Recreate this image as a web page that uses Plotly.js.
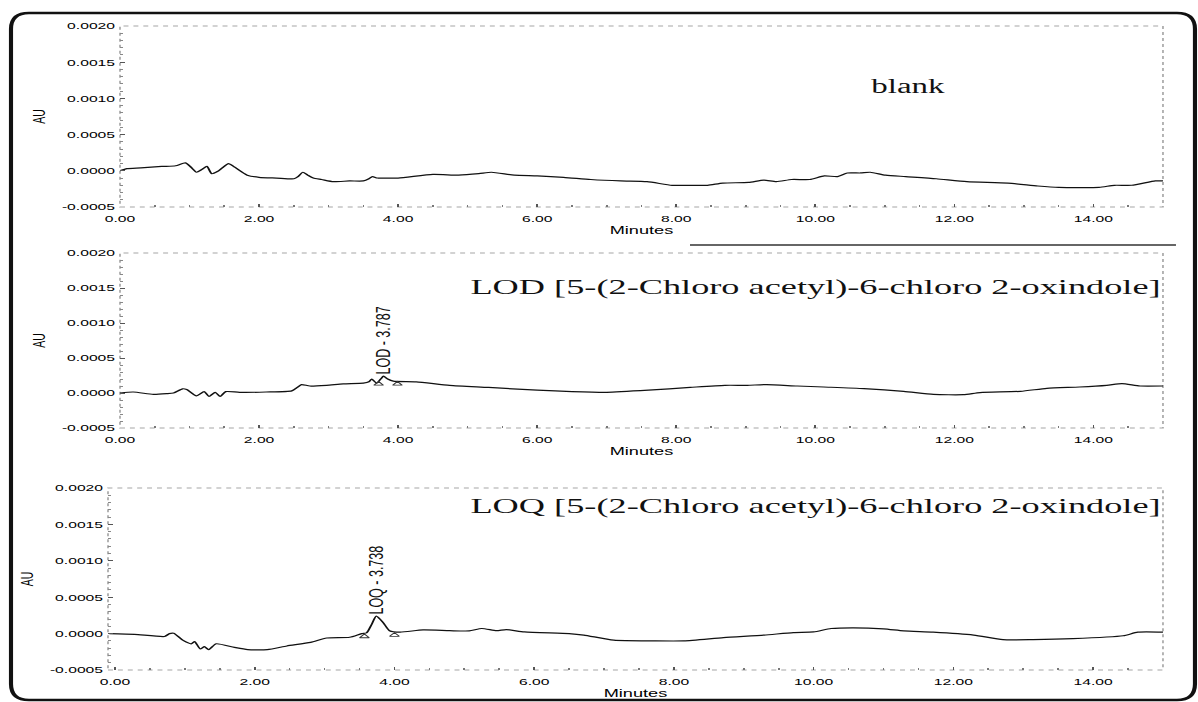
<!DOCTYPE html>
<html>
<head>
<meta charset="utf-8">
<script src="https://cdn.plot.ly/plotly-3.0.1.min.js"></script>
<style>
html,body{margin:0;padding:0;overflow:hidden;background:#fff;}
#plot{width:726px;height:702px;transform:scaleX(1.6501);transform-origin:0 0;}
</style>
</head>
<body>
<div id="plot"></div>
<script>
// ---- data ----
const blankTime = [0, 0.1, 0.3, 0.6, 0.8, 0.94, 1.02, 1.1, 1.18, 1.25, 1.32, 1.4, 1.47, 1.56, 1.65, 1.83, 2.0, 2.25, 2.5, 2.56, 2.63, 2.7, 2.78, 2.9, 3.07, 3.3, 3.5, 3.58, 3.63, 3.7, 3.75, 4.0, 4.5, 4.87, 5.16, 5.34, 5.67, 6.0, 6.38, 6.77, 7.2, 7.58, 7.94, 8.2, 8.45, 8.67, 9.04, 9.26, 9.44, 9.66, 9.92, 10.13, 10.32, 10.46, 10.65, 10.79, 11.01, 11.3, 11.74, 12.18, 12.77, 13.2, 13.5, 14.08, 14.3, 14.55, 14.89, 15.0];
const blankAU = [0, 0.00003, 0.00004, 0.00006, 0.00007, 0.00011, 0.00005, -0.00002, 0.00002, 0.00006, -0.00004, -0.00001, 0.00004, 0.0001, 0.00005, -0.00006, -0.00009, -0.0001, -0.00011, -0.00008, -0.00002, -0.00006, -0.0001, -0.00012, -0.00015, -0.00014, -0.00014, -0.00011, -0.00008, -0.0001, -0.0001, -0.0001, -0.00005, -0.00006, -0.00004, -0.00002, -0.00006, -0.00007, -0.00009, -0.00012, -0.00014, -0.00015, -0.0002, -0.0002, -0.0002, -0.00017, -0.00016, -0.00013, -0.00015, -0.00012, -0.00012, -0.00007, -0.00008, -0.00003, -0.00003, -0.00002, -0.00006, -0.00008, -0.00011, -0.00015, -0.00017, -0.00021, -0.00023, -0.00023, -0.0002, -0.0002, -0.00014, -0.00014];

const lodTime = [0, 0.19, 0.48, 0.67, 0.77, 0.9, 0.96, 1.1, 1.21, 1.28, 1.37, 1.44, 1.52, 1.72, 2.1, 2.47, 2.55, 2.61, 2.73, 2.97, 3.21, 3.5, 3.58, 3.62, 3.69, 3.75, 3.79, 3.85, 3.93, 4.26, 4.74, 5.3, 6.0, 6.5, 7.0, 7.6, 8.2, 8.7, 9.02, 9.3, 9.74, 10.12, 10.7, 11.27, 11.7, 12.13, 12.37, 12.95, 13.33, 13.8, 14.19, 14.41, 14.67, 15.0];
const lodAU = [0, 0.000014, -0.00002, -0.00001, 0, 0.00006, 0.00005, -0.00004, 0.00002, -0.00005, 0.00001, -0.00005, 0.00002, 0.00001, 0.000014, 0.00003, 0.00008, 0.00012, 0.0001, 0.00011, 0.00013, 0.00014, 0.00016, 0.0002, 0.00014, 0.0002, 0.00024, 0.0002, 0.00017, 0.00016, 0.00011, 0.00008, 0.00004, 0.00002, 0.00001, 0.00004, 0.00008, 0.00011, 0.00011, 0.00012, 0.0001, 0.000086, 0.000063, 0.000024, -0.00002, -0.000024, 0.000006, 0.000024, 0.000067, 0.000086, 0.00011, 0.000134, 0.0001, 0.0001];

const loqTime = [-0.08, 0.28, 0.71, 0.78, 0.84, 0.97, 1.09, 1.14, 1.22, 1.28, 1.34, 1.45, 1.71, 1.9, 2.18, 2.46, 2.8, 3.03, 3.36, 3.53, 3.6, 3.67, 3.74, 3.84, 3.93, 4.08, 4.41, 4.79, 5.07, 5.25, 5.46, 5.6, 5.86, 6.5, 6.71, 7.14, 7.71, 8.14, 8.71, 9.29, 9.71, 10.0, 10.25, 10.57, 11.0, 11.29, 11.71, 12.29, 12.71, 13.14, 13.71, 14.43, 14.64, 15.0];
const loqAU = [0, -0.00001, -0.00004, 0, 0.000005, -0.00009, -0.00014, -0.00011, -0.00021, -0.00018, -0.00022, -0.00014, -0.00019, -0.00022, -0.00022, -0.00017, -0.00012, -0.00006, -0.00005, 0, 0.00001, 0.00012, 0.00024, 0.00015, 0.00004, 0.00002, 0.00005, 0.00004, 0.000037, 0.00007, 0.00004, 0.000055, 0.000023, 0, -0.00002, -0.00009, -0.0001, -0.0001, -0.000055, -0.00002, 0.000014, 0.000023, 0.00007, 0.00008, 0.000065, 0.000037, 0.00002, -0.00002, -0.000083, -0.000083, -0.00007, -0.00003, 0.00002, 0.00002];

// peak integration marks (start / end of peak)
const lodMarkTime = [3.72, 3.99];
const lodMarkAU = [0.00013, 0.00013];
const loqMarkTime = [3.57, 4.0];
const loqMarkAU = [-0.00004, -0.00002];

// peak labels
const lodPeak = {label: 'LOD - 3.787', time: 3.787, au: 0.00024};
const loqPeak = {label: 'LOQ - 3.738', time: 3.738, au: 0.00024};

const panelTitles = ['blank', 'LOD [5-(2-Chloro acetyl)-6-chloro 2-oxindole]', 'LOQ [5-(2-Chloro acetyl)-6-chloro 2-oxindole]'];

const xTickVals = [0, 2, 4, 6, 8, 10, 12, 14];
const xTickText = ['0.00', '2.00', '4.00', '6.00', '8.00', '10.00', '12.00', '14.00'];
const yTickVals = [-0.0005, 0, 0.0005, 0.001, 0.0015, 0.002];
const yTickText = ['-0.0005', '0.0000', '0.0005', '0.0010', '0.0015', '0.0020'];

// ---- styling ----
const sans = 'Liberation Sans, Arial, sans-serif';
const serif = 'Liberation Serif, Times New Roman, serif';
const lineStyle = {color: '#111', width: 1.2, shape: 'spline', smoothing: 0.6};

function trace(x, y, n) {
  return {x: x, y: y, type: 'scatter', mode: 'lines', line: lineStyle,
          xaxis: 'x' + (n === 1 ? '' : n), yaxis: 'y' + (n === 1 ? '' : n), hoverinfo: 'skip'};
}
function marks(x, y, n) {
  return {x: x, y: y, type: 'scatter', mode: 'markers',
          marker: {symbol: 'triangle-up-open', size: 5, color: '#333', line: {width: 0.8, color: '#333'}},
          xaxis: 'x' + n, yaxis: 'y' + n, hoverinfo: 'skip'};
}

const data = [
  trace(blankTime, blankAU, 1),
  trace(lodTime, lodAU, 2),
  trace(loqTime, loqAU, 3),
  marks(lodMarkTime, lodMarkAU, 2),
  marks(loqMarkTime, loqMarkAU, 3)
];

function xAxis(domain, range, anchor) {
  return {
    domain: domain, range: range, anchor: anchor,
    tickvals: xTickVals, ticktext: xTickText,
    ticks: 'inside', ticklen: 3, tickcolor: '#555', tickwidth: 1,
    minor: {dtick: 0.5, tick0: 0, ticks: 'inside', ticklen: 2, tickcolor: '#777'},
    showgrid: false, zeroline: false, showline: false,
    ticklabelstandoff: 5,
    tickfont: {family: sans, size: 9.5, color: '#000'},
    title: {text: 'Minutes', font: {family: sans, size: 11, color: '#000'}, standoff: 1}
  };
}
function yAxis(domain, anchor) {
  return {
    domain: domain, range: [-0.0005, 0.002], anchor: anchor,
    tickvals: yTickVals, ticktext: yTickText,
    ticks: 'inside', ticklen: 3, tickcolor: '#555', tickwidth: 1,
    minor: {dtick: 0.0001, tick0: 0, ticks: 'inside', ticklen: 2, tickcolor: '#888'},
    showgrid: false, zeroline: false, showline: false,
    ticklabelstandoff: 2,
    tickfont: {family: sans, size: 9.5, color: '#000'},
    title: {text: 'AU', font: {family: sans, size: 10.5, color: '#000'}, standoff: 7}
  };
}

const X0 = 120 / 1198, X0b = 108 / 1198, X1 = 1163 / 1198;
const d1 = [1 - 207 / 702, 1 - 26 / 702];
const d2 = [1 - 428 / 702, 1 - 253 / 702];
const d3 = [1 - 670 / 702, 1 - 488 / 702];

function border(n) {
  const s = n === 1 ? '' : n;
  return {type: 'rect', xref: 'x' + s + ' domain', yref: 'y' + s + ' domain',
          x0: 0, x1: 1, y0: 0, y1: 1, line: {color: '#a5a5a5', width: 1, dash: 'dot'}, layer: 'below'};
}

// rounded outer frame (paper coords)
const fx0 = 11 / 1198, fx1 = 1195 / 1198, fy0 = 1 - 700 / 702, fy1 = 1 - 13 / 702;
const rx = 18 / 1198, ry = 16 / 702;
const framePath = 'M ' + (fx0 + rx) + ',' + fy1 + ' L ' + (fx1 - rx) + ',' + fy1 +
  ' Q ' + fx1 + ',' + fy1 + ' ' + fx1 + ',' + (fy1 - ry) +
  ' L ' + fx1 + ',' + (fy0 + ry) + ' Q ' + fx1 + ',' + fy0 + ' ' + (fx1 - rx) + ',' + fy0 +
  ' L ' + (fx0 + rx) + ',' + fy0 + ' Q ' + fx0 + ',' + fy0 + ' ' + fx0 + ',' + (fy0 + ry) +
  ' L ' + fx0 + ',' + (fy1 - ry) + ' Q ' + fx0 + ',' + fy1 + ' ' + (fx0 + rx) + ',' + fy1 + ' Z';

const layout = {
  width: 726, height: 702, autosize: false,
  margin: {l: 0, r: 0, t: 0, b: 0},
  paper_bgcolor: '#fff', plot_bgcolor: 'rgba(0,0,0,0)',
  showlegend: false,
  xaxis: xAxis([X0, X1], [0, 15], 'y'),
  yaxis: yAxis(d1, 'x'),
  xaxis2: xAxis([X0, X1], [0, 15], 'y2'),
  yaxis2: yAxis(d2, 'x2'),
  xaxis3: xAxis([X0b, X1], [-0.1, 15], 'y3'),
  yaxis3: yAxis(d3, 'x3'),
  shapes: [
    border(1), border(2), border(3),
    {type: 'path', xref: 'paper', yref: 'paper', path: framePath, line: {color: '#111', width: 2.5}},
    {type: 'line', xref: 'paper', yref: 'paper', x0: 690 / 1198, x1: 1176 / 1198,
     y0: 1 - 245 / 702, y1: 1 - 245 / 702, line: {color: '#333', width: 1.3}}
  ],
  annotations: [
    {xref: 'paper', yref: 'paper', x: 908 / 1198, y: 1 - 86 / 702, text: panelTitles[0], showarrow: false,
     xanchor: 'center', yanchor: 'middle', font: {family: serif, size: 20, color: '#111'}},
    {xref: 'paper', yref: 'paper', x: 815 / 1198, y: 1 - 286 / 702, text: panelTitles[1], showarrow: false,
     xanchor: 'center', yanchor: 'middle', font: {family: serif, size: 22, color: '#111'}},
    {xref: 'paper', yref: 'paper', x: 815 / 1198, y: 1 - 505 / 702, text: panelTitles[2], showarrow: false,
     xanchor: 'center', yanchor: 'middle', font: {family: serif, size: 22, color: '#111'}},
    {xref: 'x2', yref: 'y2', x: lodPeak.time, y: lodPeak.au, text: lodPeak.label, textangle: -90, showarrow: false,
     xanchor: 'center', yanchor: 'bottom', font: {family: sans, size: 12.5, color: '#111'}},
    {xref: 'x3', yref: 'y3', x: loqPeak.time, y: loqPeak.au, text: loqPeak.label, textangle: -90, showarrow: false,
     xanchor: 'center', yanchor: 'bottom', font: {family: sans, size: 12.5, color: '#111'}}
  ]
};

Plotly.newPlot('plot', data, layout, {displayModeBar: false, staticPlot: true});
</script>
</body>
</html>
